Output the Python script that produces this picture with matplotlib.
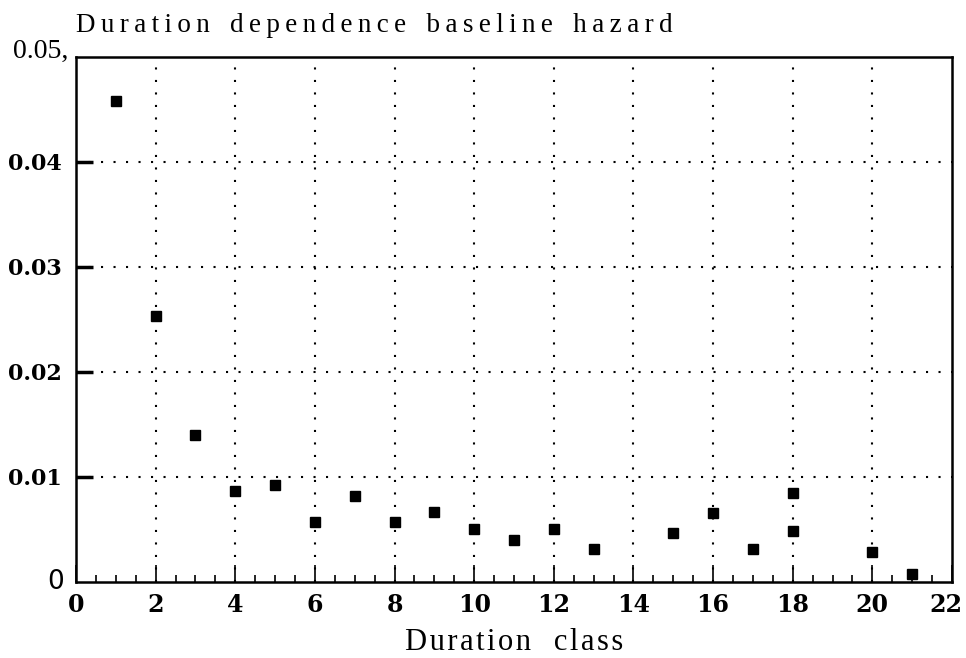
import numpy as np
import matplotlib.pyplot as plt
from matplotlib.ticker import MultipleLocator

### data
duration = [1, 2, 3, 4, 5, 6, 7, 8, 9, 10, 11, 12, 13, 15, 16, 17, 18, 18, 20, 21]
hazard = [0.0458, 0.0253, 0.0140, 0.0087, 0.0092, 0.0057, 0.0082, 0.0057, 0.0067,
          0.0050, 0.0040, 0.0050, 0.0031, 0.0047, 0.0066, 0.0031, 0.0085, 0.0049,
          0.0029, 0.0008]
xticks = [0, 2, 4, 6, 8, 10, 12, 14, 16, 18, 20, 22]
yticks = [0.01, 0.02, 0.03, 0.04]

plt.rcParams['font.family'] = ['Liberation Serif', 'DejaVu Serif']


def spaced(s, gap='   ', sep='\u2009'):
    ### the scan has wide letter spacing: pad each letter with a thin space
    words = s.split(' ')
    return gap.join(sep.join(w) for w in words)


fig = plt.figure(figsize=(9.66, 6.58), dpi=100)
ax = fig.add_axes([0.0787, 0.1155, 0.9068, 0.7979])

ax.plot(duration, hazard, 's', color='black', markersize=6.5)

ax.set_xlim(0, 22)
ax.set_ylim(0, 0.05)

### ticks and dotted grid
ax.set_xticks(xticks)
ax.set_xticklabels([str(t) for t in xticks[:-1]] + [''], fontweight='bold',
                   fontsize=17, family='DejaVu Serif')
# last label sits at the very edge of the scan; keep it inside the canvas
ax.text(22.25, -0.00105, str(xticks[-1]), ha='right', va='top', fontweight='bold',
        fontsize=17, family='DejaVu Serif')
ax.xaxis.set_minor_locator(MultipleLocator(0.5))
ax.set_yticks(yticks)
ax.set_yticklabels(['%.2f' % t for t in yticks], fontweight='bold', fontsize=16,
                   family='DejaVu Serif')
for x in xticks[1:-1]:
    ax.axvline(x, color='black', linestyle=(0, (1, 5)), linewidth=1.5)
for y in yticks:
    ax.axhline(y, color='black', linestyle=(0, (1, 5)), linewidth=1.5)

ax.tick_params(axis='x', which='major', direction='in', length=12, width=1.2, pad=8)
ax.tick_params(axis='x', which='minor', direction='in', length=5, width=1.2)
ax.tick_params(axis='y', which='major', direction='in', length=12, width=2.5, pad=10)
for s in ax.spines.values():
    s.set_linewidth(1.8)

### corner labels of the y axis
ax.text(-0.3, 0.0, '0', ha='right', va='center', fontsize=19, family='DejaVu Sans')
ax.text(-0.2, 0.0505, '0.05,', ha='right', va='center', fontsize=20)

ax.set_title(spaced('Duration dependence baseline hazard'), loc='left', fontsize=19.5,
             x=0.0, pad=18)
ax.set_xlabel(spaced('Duration class', '   ', '\u200a'), fontsize=22, labelpad=8)

fig.savefig('out.png', dpi=100)
